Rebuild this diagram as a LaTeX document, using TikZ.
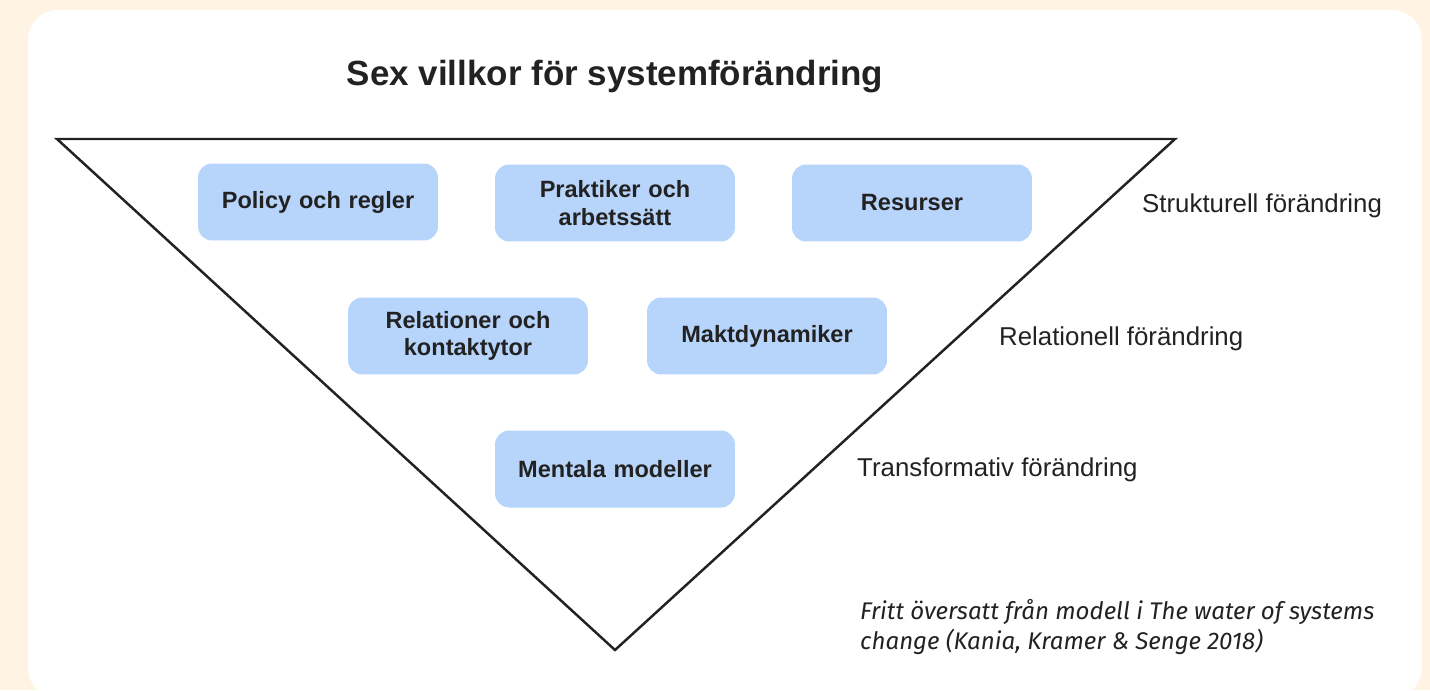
\documentclass[tikz,border=0pt]{standalone}
\usepackage{fontspec}
\setmainfont{Liberation Sans}
\newfontfamily\notefont{Fira Sans}
\usetikzlibrary{positioning}

\definecolor{cream}{HTML}{FFF3E3}
\definecolor{boxblue}{HTML}{B7D4FB}
\definecolor{inkdark}{HTML}{222222}

\begin{document}
\begin{tikzpicture}[x=0.02cm, y=-0.02cm,
  box/.style={rectangle, rounded corners=8pt, fill=boxblue, minimum width=4.8cm,
    minimum height=1.54cm, text width=4.4cm, align=center,
    font=\fontsize{13.4}{15.8}\selectfont\bfseries, text=inkdark},
  level/.style={anchor=west, font=\fontsize{14.7}{17}\selectfont, text=inkdark}]
  % background and panel
  \fill[cream] (0,0) rectangle (1430,690);
  \useasboundingbox (0,0) rectangle (1430,690);
  \fill[white, rounded corners=17pt] (28,10) rectangle (1422,698);

  \node[font=\fontsize{19.9}{23}\selectfont\bfseries, text=inkdark] (title) at (615,77) {Sex villkor för systemförändring};

  % triangle
  \coordinate (tl) at (57,139);
  \coordinate (tr) at (1175,139);
  \coordinate (tb) at (615,650);
  \draw[line width=1.4pt, inkdark, line join=miter] (tl) -- (tr) -- (tb) -- cycle;

  % the six conditions
  \node[box] (policy)  at (318,202) {Policy och regler};
  \node[box] (prakt)   at (615,203) {Praktiker och\\arbetssätt};
  \node[box] (resurs)  at (912,203) {Resurser};
  \node[box] (relat)   at (468,336) {Relationer och\\kontaktytor};
  \node[box] (makt)    at (767,336) {Maktdynamiker};
  \node[box] (mental)  at (615,469) {Mentala modeller};

  % levels
  \node[level] (struk)  at (1136,206) {Strukturell förändring};
  \node[level] (relch)  at (993,339)  {Relationell förändring};
  \node[level] (transf) at (851,470)  {Transformativ förändring};

  % source note
  \node[anchor=west, align=left, text=inkdark,
    font=\notefont\itshape\fontsize{13.7}{17.2}\selectfont] (note) at (854,627)
    {Fritt översatt från modell i The water of systems\\change (Kania, Kramer \& Senge 2018)};
\end{tikzpicture}
\end{document}
